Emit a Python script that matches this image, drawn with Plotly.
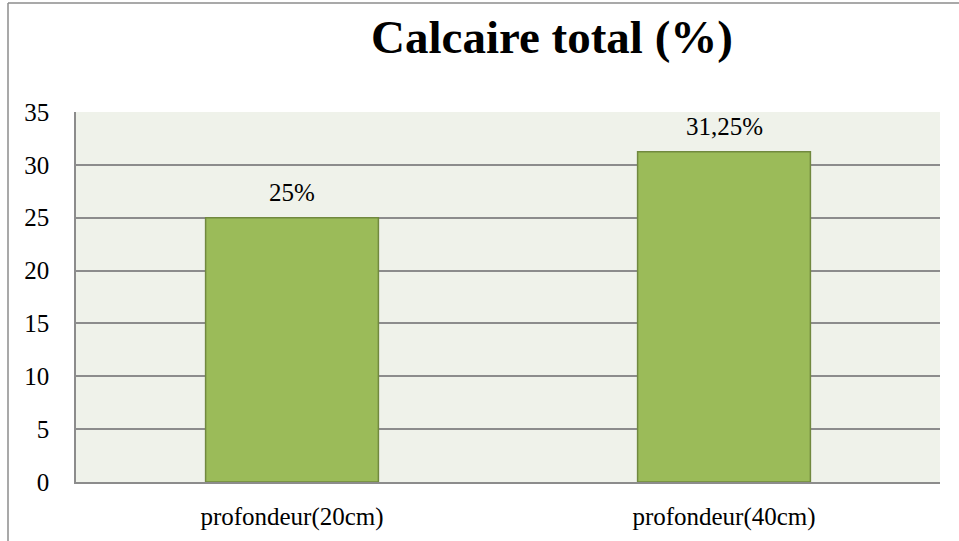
import plotly.graph_objects as go

categories = ["profondeur(20cm)", "profondeur(40cm)"]
values = [25, 31.25]
value_labels = ["25%", "31,25%"]
y_ticks = [0, 5, 10, 15, 20, 25, 30, 35]

serif = "Liberation Serif"

fig = go.Figure(
    data=[go.Bar(
        x=categories,
        y=values,
        width=0.4,
        marker=dict(color="#9BBB59", line=dict(color="#71893F", width=1.5)),
        hoverinfo="skip",
    )]
)

# value labels above the bars
for cat, val, lab in zip(categories, values, value_labels):
    fig.add_annotation(
        x=cat, y=val, text=lab, showarrow=False,
        yanchor="bottom", yshift=10,
        font=dict(family=serif, size=25, color="black"),
    )

# outer chart frame (left and top edges visible)
fig.add_shape(type="line", xref="paper", yref="paper",
              x0=-0.0787, x1=-0.0787, y0=1.2946, y1=-0.3,
              line=dict(color="#8C8C8C", width=1.5))
fig.add_shape(type="line", xref="paper", yref="paper",
              x0=-0.0787, x1=1.2, y0=1.2946, y1=1.2946,
              line=dict(color="#8C8C8C", width=1.5))

fig.update_layout(
    width=959,
    height=541,
    title=dict(
        text="<b>Calcaire total (%)</b>",
        x=552 / 959, xanchor="center",
        y=1 - 37 / 541, yanchor="middle",
        font=dict(family=serif, size=47, color="black"),
    ),
    font=dict(family=serif, size=25, color="black"),
    paper_bgcolor="white",
    plot_bgcolor="#EFF2EA",
    margin=dict(l=76, r=19, t=112, b=59),
    showlegend=False,
    xaxis=dict(
        showgrid=False,
        showline=True, linecolor="#8C8C8C", linewidth=1.5,
        ticks="outside", ticklen=11, tickcolor="rgba(0,0,0,0)",
        tickfont=dict(family=serif, size=25),
        automargin=False,
    ),
    yaxis=dict(
        range=[0, 35],
        tickvals=y_ticks,
        showgrid=True, gridcolor="#8C8C8C", gridwidth=1.5,
        zeroline=False,
        showline=True, linecolor="#8C8C8C", linewidth=1.5,
        ticks="outside", ticklen=20, tickcolor="rgba(0,0,0,0)",
        tickfont=dict(family=serif, size=25),
        automargin=False,
    ),
)

# drop the browser's default page margin so the figure sits at the top-left corner
fig.write_html(
    "out.html",
    config={"displayModeBar": False},
    post_script="document.body.style.margin='0';",
)
